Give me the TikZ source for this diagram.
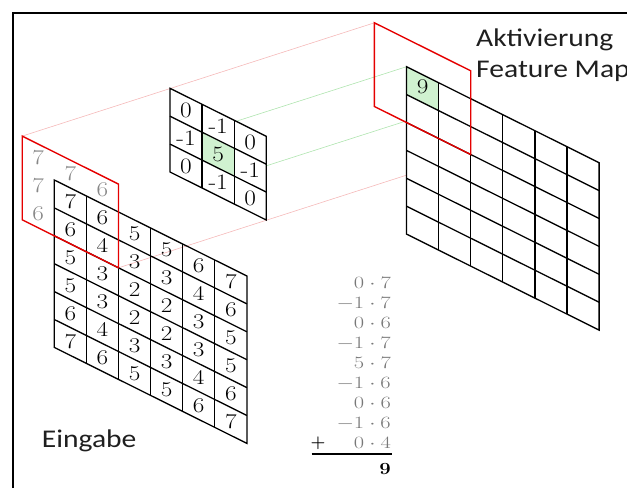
\documentclass[tikz,border=0pt]{standalone}
\usepackage{fontspec}
\newfontfamily\labelfont{Carlito}
\definecolor{cellgreen}{RGB}{208,242,208}
\definecolor{rayred}{RGB}{245,185,185}
\definecolor{raygreen}{RGB}{175,228,175}
\definecolor{padgray}{RGB}{135,135,135}
\definecolor{calcgray}{RGB}{120,120,120}
\begin{document}
\begin{tikzpicture}[
  gridline/.style={line width=1.3pt, draw=black, line join=miter},
  redbox/.style={line width=1.4pt, draw=red!90!black, line join=miter},
  pinkray/.style={line width=0.6pt, draw=rayred},
  greenray/.style={line width=0.6pt, draw=raygreen},
  num/.style={font=\fontsize{21}{21}\selectfont, inner sep=0pt},
  knum/.style={font=\fontsize{22}{22}\selectfont, inner sep=0pt},
  padnum/.style={num, text=padgray},
  calc/.style={font=\fontsize{17.5}{17.5}\selectfont, inner sep=0pt, text=calcgray, anchor=base east},
  caption/.style={font=\labelfont\fontsize{25.5}{25.5}\selectfont, inner sep=0pt, anchor=base west, text=black!88}
]
\useasboundingbox (0pt,0pt) rectangle (627pt,-488pt);
% frame
\draw[line width=2pt] (13pt,-488pt) -- (13pt,-13pt) -- (627pt,-13pt);

% ---- named corner coordinates of the three planes ----
\begin{scope}[shift={(54.3pt,-180pt)}, x={(32.1pt,-16pt)}, y={(0pt,-27.9pt)}]
  \coordinate (inRedTL) at (-1,-1);
  \coordinate (inRedBR) at (2,2);
\end{scope}
\begin{scope}[shift={(170pt,-88.3pt)}, x={(32.1pt,-16pt)}, y={(0pt,-27.9pt)}]
  \coordinate (kTL) at (0,0);
  \coordinate (kBR) at (3,3);
  \coordinate (kCTL) at (1,1);
  \coordinate (kCBR) at (2,2);
\end{scope}
\begin{scope}[shift={(406.5pt,-66.7pt)}, x={(32.1pt,-16pt)}, y={(0pt,-27.9pt)}]
  \coordinate (outRedTL) at (-1,-1);
  \coordinate (outRedBR) at (2,2);
  \coordinate (outCTL) at (0,0);
  \coordinate (outCBR) at (1,1);
\end{scope}

% ---- projection rays (drawn first, hidden by opaque planes) ----
\draw[pinkray] (inRedTL) -- (outRedTL);
\draw[pinkray] (inRedBR) -- (outRedBR);
\draw[greenray] (kCTL) -- (outCTL);
\draw[greenray] (kCBR) -- (outCBR);

% ---- input plane ----
\begin{scope}[shift={(54.3pt,-180pt)}, x={(32.1pt,-16pt)}, y={(0pt,-27.9pt)}]
  \foreach \i in {1,...,5} {
    \draw[gridline] (\i,0) -- (\i,6);
    \draw[gridline] (0,\i) -- (6,\i);
  }
  \draw[gridline] (0,0) -- (6,0) -- (6,6) -- (0,6) -- cycle;
  \foreach \row [count=\r from 0] in {{7,6,5,5,6,7},{6,4,3,3,4,6},{5,3,2,2,3,5},{5,3,2,2,3,5},{6,4,3,3,4,6},{7,6,5,5,6,7}} {
    \foreach \v [count=\c from 0] in \row {
      \node[num] (in-\r-\c) at (\c+0.5,\r+0.5) {\scalebox{1.2}[1]{\v}};
    }
  }
  \node[padnum] (pad-a) at (-0.5,-0.5) {\scalebox{1.2}[1]{7}};
  \node[padnum] (pad-b) at (0.5,-0.5) {\scalebox{1.2}[1]{7}};
  \node[padnum] (pad-c) at (1.5,-0.5) {\scalebox{1.2}[1]{6}};
  \node[padnum] (pad-d) at (-0.5,0.5) {\scalebox{1.2}[1]{7}};
  \node[padnum] (pad-e) at (-0.5,1.5) {\scalebox{1.2}[1]{6}};
  \draw[redbox] (-1,-1) -- (2,-1) -- (2,2) -- (-1,2) -- cycle;
\end{scope}

% ---- kernel ----
\begin{scope}[shift={(170pt,-88.3pt)}, x={(32.1pt,-16pt)}, y={(0pt,-27.9pt)}]
  \fill[white] (0,0) -- (3,0) -- (3,3) -- (0,3) -- cycle;
  \fill[cellgreen] (1,1) -- (2,1) -- (2,2) -- (1,2) -- cycle;
  \foreach \i in {1,2} {
    \draw[gridline] (\i,0) -- (\i,3);
    \draw[gridline] (0,\i) -- (3,\i);
  }
  \draw[gridline] (0,0) -- (3,0) -- (3,3) -- (0,3) -- cycle;
  \foreach \row [count=\r from 0] in {{0,-1,0},{-1,5,-1},{0,-1,0}} {
    \foreach \v [count=\c from 0] in \row {
      \node[knum] (k-\r-\c) at (\c+0.5,\r+0.5) {\scalebox{1.15}[1]{\v}};
    }
  }
\end{scope}

% ---- output plane ----
\begin{scope}[shift={(406.5pt,-66.7pt)}, x={(32.1pt,-16pt)}, y={(0pt,-27.9pt)}]
  \fill[white] (0,0) -- (6,0) -- (6,6) -- (0,6) -- cycle;
  \fill[cellgreen] (0,0) -- (1,0) -- (1,1) -- (0,1) -- cycle;
  \foreach \i in {1,...,5} {
    \draw[gridline] (\i,0) -- (\i,6);
    \draw[gridline] (0,\i) -- (6,\i);
  }
  \draw[gridline] (0,0) -- (6,0) -- (6,6) -- (0,6) -- cycle;
  \node[num] (out-0-0) at (0.5,0.42) {\scalebox{1.2}[1]{9}};
  \draw[redbox] (-1,-1) -- (2,-1) -- (2,2) -- (-1,2) -- cycle;
\end{scope}

% ---- captions ----
\node[caption] (akt) at (476pt,-46.7pt) {\scalebox{1.16}[1]{Aktivierung}};
\node[caption] (fmap) at (476pt,-77.3pt) {\scalebox{1.16}[1]{Feature Map}};
\node[caption] (eing) at (41.7pt,-447.7pt) {\scalebox{1.16}[1]{Eingabe}};

% ---- calculation ----
\foreach \a/\b [count=\i from 0] in {0/7,-1/7,0/6,-1/7,5/7,-1/6,0/6,-1/6,0/4} {
  \node[calc] (calc-\i) at (391pt,{-288pt-20pt*\i}) {\scalebox{1.3}[1]{$\a\cdot\b$}};
}
\node[font=\fontsize{17}{17}\selectfont\bfseries, inner sep=0pt] (plus) at (318pt,-443pt) {+};
\coordinate (ruleL) at (311.7pt,-454pt);
\coordinate (ruleR) at (391.7pt,-454pt);
\draw[line width=1.5pt] (ruleL) -- (ruleR);
\node[font=\fontsize{17}{17}\selectfont\bfseries, inner sep=0pt, anchor=base east] (res) at (391pt,-474pt) {\scalebox{1.2}[1]{9}};
\end{tikzpicture}
\end{document}
